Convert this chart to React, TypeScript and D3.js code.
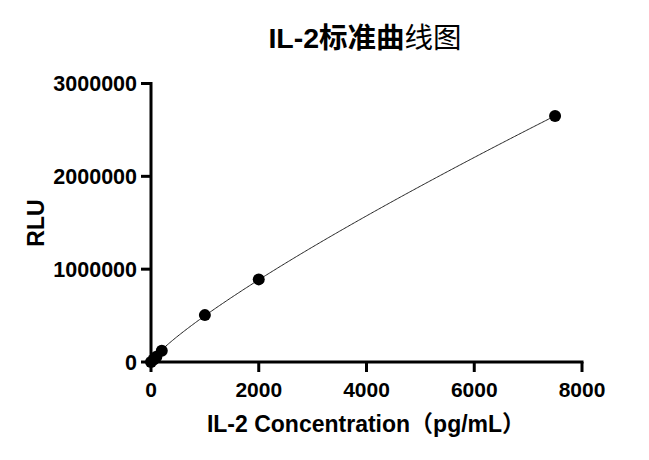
import React from "react";
import * as d3 from "d3";

const concentrations = [0, 50, 100, 200, 1000, 2000, 7500];
const rluValues = [0, 28000, 56000, 122000, 505000, 890000, 2650000];
const xTicks = [0, 2000, 4000, 6000, 8000];
const yTicks = [0, 1000000, 2000000, 3000000];

const W = 649;
const H = 460;
const FONT = "'Liberation Sans', Arial, 'Noto Sans CJK SC', sans-serif";

function fitPower(xs: number[], ys: number[]) {
  // least squares of y = a * x^b in linear space (closed form a for each b)
  let best = { a: 0, b: 1, sse: Infinity };
  for (let b = 0.5; b <= 1.2; b += 0.0005) {
    let sxy = 0;
    let sxx = 0;
    xs.forEach((x, i) => {
      const p = x > 0 ? Math.pow(x, b) : 0;
      sxy += p * ys[i];
      sxx += p * p;
    });
    const a = sxy / sxx;
    let sse = 0;
    xs.forEach((x, i) => {
      const p = x > 0 ? Math.pow(x, b) : 0;
      sse += (ys[i] - a * p) ** 2;
    });
    if (sse < best.sse) best = { a, b, sse };
  }
  return best;
}

export default function App() {
  const x = d3.scaleLinear().domain([0, 8000]).range([151, 582]);
  const y = d3.scaleLinear().domain([0, 3000000]).range([362, 83.5]);

  const { a, b } = fitPower(concentrations, rluValues);
  const maxX = d3.max(concentrations)!;
  const samples = d3.range(0, 301).map((i) => (maxX * i) / 300);
  const line = d3
    .line<number>()
    .x((c) => x(c))
    .y((c) => y(c <= 0 ? 0 : a * Math.pow(c, b)));

  return (
    <svg
      width={W}
      height={H}
      style={{ position: "absolute", left: 0, top: 0, background: "#fff" }}
      fontFamily={FONT}
    >
      <rect width={W} height={H} fill="#fff" />
      <text x={365} y={48} textAnchor="middle" fontSize={28.5} fontWeight="bold" fill="#000">
        <tspan>IL-2标准曲</tspan>
        <tspan fontWeight="normal">线图</tspan>
      </text>

      {/* curve */}
      <path d={line(samples) ?? ""} fill="none" stroke="#222" strokeWidth={1} />

      {/* points */}
      {concentrations.map((c, i) => (
        <circle key={i} cx={x(c)} cy={y(rluValues[i])} r={6} fill="#000" />
      ))}

      {/* x axis */}
      <line x1={x(0) - 1.5} x2={x(8000) + 1.5} y1={y(0)} y2={y(0)} stroke="#000" strokeWidth={3} />
      {xTicks.map((t) => (
        <g key={t}>
          <line x1={x(t)} x2={x(t)} y1={y(0)} y2={y(0) + 10} stroke="#000" strokeWidth={3} />
          <text x={x(t)} y={397} textAnchor="middle" fontSize={21} fontWeight="bold" fill="#000">
            {t}
          </text>
        </g>
      ))}
      <text x={366} y={432} textAnchor="middle" fontSize={23} fontWeight="bold" fill="#000">
        IL-2 Concentration（pg/mL）
      </text>

      {/* y axis */}
      <line x1={x(0)} x2={x(0)} y1={y(0) + 1.5} y2={y(3000000) - 1.5} stroke="#000" strokeWidth={3} />
      {yTicks.map((t) => (
        <g key={t}>
          <line x1={x(0) - 10} x2={x(0)} y1={y(t)} y2={y(t)} stroke="#000" strokeWidth={3} />
          <text x={137} y={y(t) + 7.5} textAnchor="end" fontSize={21.5} fontWeight="bold" fill="#000">
            {t}
          </text>
        </g>
      ))}
      <text
        transform={`translate(43.5,223) rotate(-90)`}
        textAnchor="middle"
        fontSize={23}
        fontWeight="bold"
        fill="#000"
      >
        RLU
      </text>
    </svg>
  );
}
